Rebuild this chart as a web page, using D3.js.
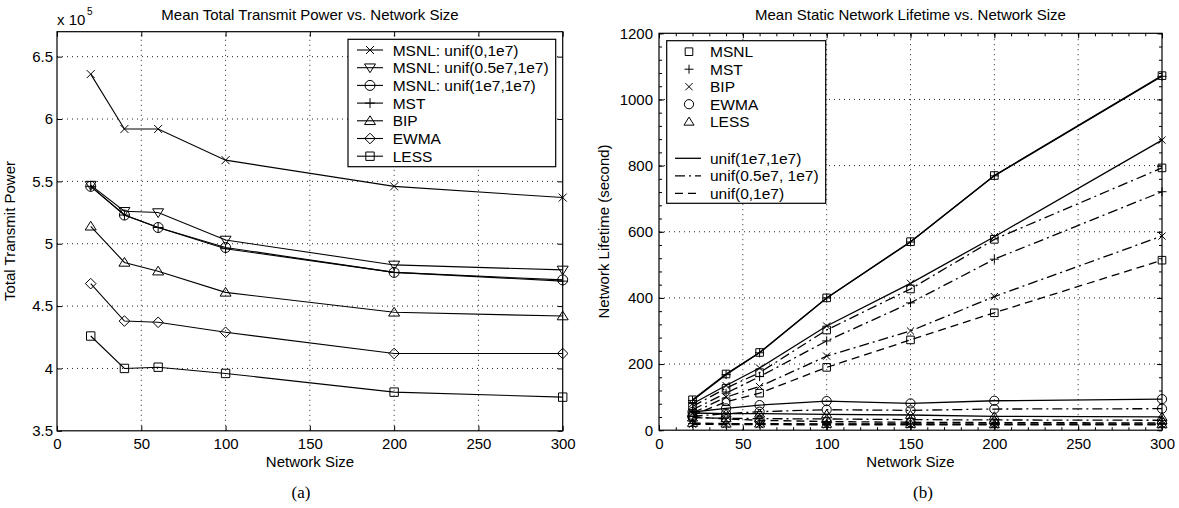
<!DOCTYPE html>
<html>
<head>
<meta charset="utf-8">
<script src="https://cdn.jsdelivr.net/npm/d3@7"></script>
<style>
  body { margin: 0; background: #fff; }
  svg { display: block; font-family: "Liberation Sans", Arial, sans-serif; }
</style>
</head>
<body>
<script>
// ---- (a) mean total transmit power, in units of 1e5 ----
const sizesA = [20, 40, 60, 100, 200, 300];
const powerMsnl0 = [6.36, 5.92, 5.92, 5.67, 5.46, 5.37];
const powerMsnl05 = [5.47, 5.26, 5.25, 5.03, 4.83, 4.79];
const powerMsnl1 = [5.46, 5.23, 5.13, 4.97, 4.77, 4.71];
const powerMst = [5.46, 5.23, 5.13, 4.96, 4.77, 4.70];
const powerBip = [5.14, 4.85, 4.78, 4.61, 4.45, 4.42];
const powerEwma = [4.68, 4.38, 4.37, 4.29, 4.12, 4.12];
const powerLess = [4.26, 4.00, 4.01, 3.96, 3.81, 3.77];
const xTicksA = [0, 50, 100, 150, 200, 250, 300];
const yTicksA = [3.5, 4, 4.5, 5, 5.5, 6, 6.5];

// ---- (b) mean static network lifetime (s) ----
const sizesB = [20, 40, 60, 100, 150, 200, 300];
const lifeMsnl1 = [92, 170, 235, 400, 570, 770, 1072];
const lifeMst1 = [90, 168, 234, 400, 569, 769, 1070];
const lifeBip1 = [80, 135, 188, 315, 444, 585, 877];
const lifeEwma1 = [55, 66, 76, 88, 81, 89, 94];
const lifeLess1 = [52, 50, 50, 48, 46, 42, 40];
const lifeMsnl05 = [72, 127, 174, 303, 427, 577, 793];
const lifeMst05 = [62, 112, 162, 270, 385, 517, 721];
const lifeBip05 = [52, 100, 132, 224, 300, 404, 587];
const lifeEwma05 = [42, 50, 56, 62, 60, 64, 65];
const lifeLess05 = [38, 36, 35, 34, 32, 31, 30];
const lifeMsnl0 = [45, 86, 112, 190, 273, 355, 514];
const lifeMst0 = [20, 19, 19, 18, 18, 18, 18];
const lifeBip0 = [18, 17, 17, 16, 16, 16, 16];
const lifeEwma0 = [40, 34, 30, 26, 24, 23, 22];
const lifeLess0 = [22, 20, 20, 19, 19, 18, 18];
const xTicksB = [0, 50, 100, 150, 200, 250, 300];
const yTicksB = [0, 200, 400, 600, 800, 1000, 1200];

const svg = d3.select("body").append("svg")
    .attr("width", 1179)
    .attr("height", 508);

const FONT = "'Liberation Sans', Arial, sans-serif";

function markerPath(type, r) {
    const p = d3.path();
    if (type === "square") p.rect(-r, -r, 2 * r, 2 * r);
    else if (type === "circle") p.arc(0, 0, r, 0, 2 * Math.PI);
    else if (type === "plus") { p.moveTo(-r, 0); p.lineTo(r, 0); p.moveTo(0, -r); p.lineTo(0, r); }
    else if (type === "times") { p.moveTo(-r, -r); p.lineTo(r, r); p.moveTo(-r, r); p.lineTo(r, -r); }
    else if (type === "triangle") { p.moveTo(0, -r); p.lineTo(r * 1.1, r * 0.75); p.lineTo(-r * 1.1, r * 0.75); p.closePath(); }
    else if (type === "tridown") { p.moveTo(0, r); p.lineTo(r * 1.1, -r * 0.75); p.lineTo(-r * 1.1, -r * 0.75); p.closePath(); }
    else if (type === "diamond") { p.moveTo(0, -r); p.lineTo(r, 0); p.lineTo(0, r); p.lineTo(-r, 0); p.closePath(); }
    return p.toString();
}

function frame(x, y, xTicks, yTicks, yFmt, yPad, minor) {
    const g = svg.append("g");
    const [x0, x1] = x.range();
    const [y0, y1] = y.range();

    // dotted grid
    g.append("g").selectAll("line")
        .data(xTicks.filter(t => x(t) > x0 + 1 && x(t) < x1 - 1))
        .join("line")
        .attr("x1", d => x(d)).attr("x2", d => x(d))
        .attr("y1", y0).attr("y2", y1)
        .attr("stroke", "#222").attr("stroke-dasharray", "1,4");
    g.append("g").selectAll("line")
        .data(yTicks.filter(t => y(t) < y0 - 1 && y(t) > y1 + 1))
        .join("line")
        .attr("y1", d => y(d)).attr("y2", d => y(d))
        .attr("x1", x0).attr("x2", x1)
        .attr("stroke", "#222").attr("stroke-dasharray", "1,4");

    const axes = g.append("g").attr("class", "axes");
    axes.append("g").attr("transform", `translate(0,${y0})`)
        .call(d3.axisBottom(x).tickValues(xTicks).tickSize(-5).tickPadding(8));
    axes.append("g").attr("transform", `translate(0,${y1})`)
        .call(d3.axisTop(x).tickValues(xTicks).tickSize(-5).tickFormat(""));
    axes.append("g").attr("transform", `translate(${x0},0)`)
        .call(d3.axisLeft(y).tickValues(yTicks).tickSize(-5).tickPadding(yPad).tickFormat(yFmt));
    axes.append("g").attr("transform", `translate(${x1},0)`)
        .call(d3.axisRight(y).tickValues(yTicks).tickSize(-5).tickFormat(""));

    if (minor) {
        const mx = d3.range(x.domain()[0], x.domain()[1] + 1, minor[0]);
        const my = d3.range(y.domain()[0], y.domain()[1] + 1, minor[1]);
        axes.append("g").attr("transform", `translate(0,${y0})`)
            .call(d3.axisBottom(x).tickValues(mx).tickSize(-3).tickFormat(""));
        axes.append("g").attr("transform", `translate(0,${y1})`)
            .call(d3.axisTop(x).tickValues(mx).tickSize(-3).tickFormat(""));
        axes.append("g").attr("transform", `translate(${x0},0)`)
            .call(d3.axisLeft(y).tickValues(my).tickSize(-3).tickFormat(""));
        axes.append("g").attr("transform", `translate(${x1},0)`)
            .call(d3.axisRight(y).tickValues(my).tickSize(-3).tickFormat(""));
    }

    axes.selectAll(".domain").remove();
    axes.selectAll("g").attr("font-family", FONT).attr("font-size", 15);
    axes.selectAll(".tick text").attr("fill", "#000");
    axes.selectAll(".tick line").attr("stroke", "#000");

    g.append("rect")
        .attr("x", x0).attr("y", y1)
        .attr("width", x1 - x0).attr("height", y0 - y1)
        .attr("fill", "none").attr("stroke", "#000").attr("stroke-width", 1.2);
    return g;
}

function drawSeries(g, sizes, x, y, s, width) {
    const line = d3.line().x((d, i) => x(sizes[i])).y(d => y(d));
    g.append("path")
        .attr("d", line(s.values))
        .attr("fill", "none")
        .attr("stroke", "#000")
        .attr("stroke-width", width)
        .attr("stroke-dasharray", s.dash || null);
    g.append("g").selectAll("path")
        .data(s.values)
        .join("path")
        .attr("transform", (d, i) => `translate(${x(sizes[i])},${y(d)})`)
        .attr("d", markerPath(s.marker, s.r))
        .attr("fill", "none")
        .attr("stroke", "#000")
        .attr("stroke-width", 1);
}

function text(t, x, y, opts = {}) {
    return svg.append("text")
        .attr("x", x).attr("y", y)
        .attr("font-family", opts.family || FONT)
        .attr("font-size", opts.size || 15)
        .attr("text-anchor", opts.anchor || "middle")
        .attr("transform", opts.transform || null)
        .attr("fill", "#000")
        .text(t);
}

// ================= panel (a) =================
const xA = d3.scaleLinear().domain([0, 300]).range([57, 562.7]);
const yA = d3.scaleLinear().domain([3.5, 6.7]).range([430.8, 31.7]);
const gA = frame(xA, yA, xTicksA, yTicksA, d3.format("~g"), 4, null);

const seriesA = [
    { name: "MSNL: unif(0,1e7)", values: powerMsnl0, marker: "times", r: 4 },
    { name: "MSNL: unif(0.5e7,1e7)", values: powerMsnl05, marker: "tridown", r: 5 },
    { name: "MSNL: unif(1e7,1e7)", values: powerMsnl1, marker: "circle", r: 5 },
    { name: "MST", values: powerMst, marker: "plus", r: 5 },
    { name: "BIP", values: powerBip, marker: "triangle", r: 5 },
    { name: "EWMA", values: powerEwma, marker: "diamond", r: 5.3 },
    { name: "LESS", values: powerLess, marker: "square", r: 4.2 }
];
const plotA = gA.insert("g", ".axes");
seriesA.forEach(s => drawSeries(plotA, sizesA, xA, yA, s, 1.1));

text("Mean Total Transmit Power vs. Network Size", 310, 19.5);
text("Network Size", 310, 467);
text("Total Transmit Power", 0, 0, { transform: "translate(15,231) rotate(-90)" });
text("x 10", 57, 25, { anchor: "start" });
text("5", 87, 15, { anchor: "start", size: 10 });
text("(a)", 301, 498, { family: "'Liberation Serif', 'Times New Roman', serif", size: 17 });

// legend (a)
const legA = svg.append("g");
legA.append("rect")
    .attr("x", 348).attr("y", 39.3).attr("width", 207.7).attr("height", 127.4)
    .attr("fill", "#fff").attr("stroke", "#000").attr("stroke-width", 1.2);
seriesA.forEach((s, i) => {
    const cy = 50 + i * 17.7;
    legA.append("line").attr("x1", 357).attr("x2", 383).attr("y1", cy).attr("y2", cy)
        .attr("stroke", "#000").attr("stroke-width", 1.1);
    legA.append("path").attr("transform", `translate(370,${cy})`)
        .attr("d", markerPath(s.marker, s.r)).attr("fill", "none").attr("stroke", "#000");
    legA.append("text").attr("x", 392.7).attr("y", cy).attr("dy", "0.36em")
        .attr("font-family", FONT).attr("font-size", 15.5).text(s.name);
});

// ================= panel (b) =================
const xB = d3.scaleLinear().domain([0, 300]).range([659, 1162]);
const yB = d3.scaleLinear().domain([0, 1200]).range([430.2, 33.3]);
const gB = frame(xB, yB, xTicksB, yTicksB, d3.format("d"), 6, [10, 40]);

const markersB = { MSNL: ["square", 3.8], MST: ["plus", 4.5], BIP: ["times", 3.6], EWMA: ["circle", 4.6], LESS: ["triangle", 4.6] };
const dashB = { solid: null, dashdot: "10,4,2,4", dashed: "8,5" };
const seriesB = [
    ["MSNL", "solid", lifeMsnl1], ["MST", "solid", lifeMst1], ["BIP", "solid", lifeBip1],
    ["EWMA", "solid", lifeEwma1], ["LESS", "solid", lifeLess1],
    ["MSNL", "dashdot", lifeMsnl05], ["MST", "dashdot", lifeMst05], ["BIP", "dashdot", lifeBip05],
    ["EWMA", "dashdot", lifeEwma05], ["LESS", "dashdot", lifeLess05],
    ["MSNL", "dashed", lifeMsnl0], ["MST", "dashed", lifeMst0], ["BIP", "dashed", lifeBip0],
    ["EWMA", "dashed", lifeEwma0], ["LESS", "dashed", lifeLess0]
].map(([alg, style, values]) => ({
    values, marker: markersB[alg][0], r: markersB[alg][1], dash: dashB[style]
}));
const plotB = gB.insert("g", ".axes");
seriesB.forEach(s => drawSeries(plotB, sizesB, xB, yB, s, 1.3));

text("Mean Static Network Lifetime vs. Network Size", 910.5, 19.5);
text("Network Size", 910.5, 467);
text("Network Lifetime (second)", 0, 0, { transform: "translate(609,231.5) rotate(-90)" });
text("(b)", 923, 498, { family: "'Liberation Serif', 'Times New Roman', serif", size: 17 });

// legend (b)
const legB = svg.append("g");
legB.append("rect")
    .attr("x", 666.7).attr("y", 40.7).attr("width", 159).attr("height", 162.6)
    .attr("fill", "#fff").attr("stroke", "#000").attr("stroke-width", 1.2);
const algNames = ["MSNL", "MST", "BIP", "EWMA", "LESS"];
algNames.forEach((a, i) => {
    const cy = 51.7 + i * 17.5;
    legB.append("path").attr("transform", `translate(689,${cy})`)
        .attr("d", markerPath(markersB[a][0], markersB[a][1])).attr("fill", "none").attr("stroke", "#000");
    legB.append("text").attr("x", 710).attr("y", cy).attr("dy", "0.36em")
        .attr("font-family", FONT).attr("font-size", 15.5).text(a);
});
const styleNames = [["unif(1e7,1e7)", "solid"], ["unif(0.5e7, 1e7)", "dashdot"], ["unif(0,1e7)", "dashed"]];
styleNames.forEach(([label, st], i) => {
    const cy = 158.3 + i * 17.5;
    legB.append("line").attr("x1", 675).attr("x2", 701).attr("y1", cy).attr("y2", cy)
        .attr("stroke", "#000").attr("stroke-width", 1.3).attr("stroke-dasharray", dashB[st]);
    legB.append("text").attr("x", 710).attr("y", cy).attr("dy", "0.36em")
        .attr("font-family", FONT).attr("font-size", 15.5).text(label);
});
</script>
</body>
</html>
